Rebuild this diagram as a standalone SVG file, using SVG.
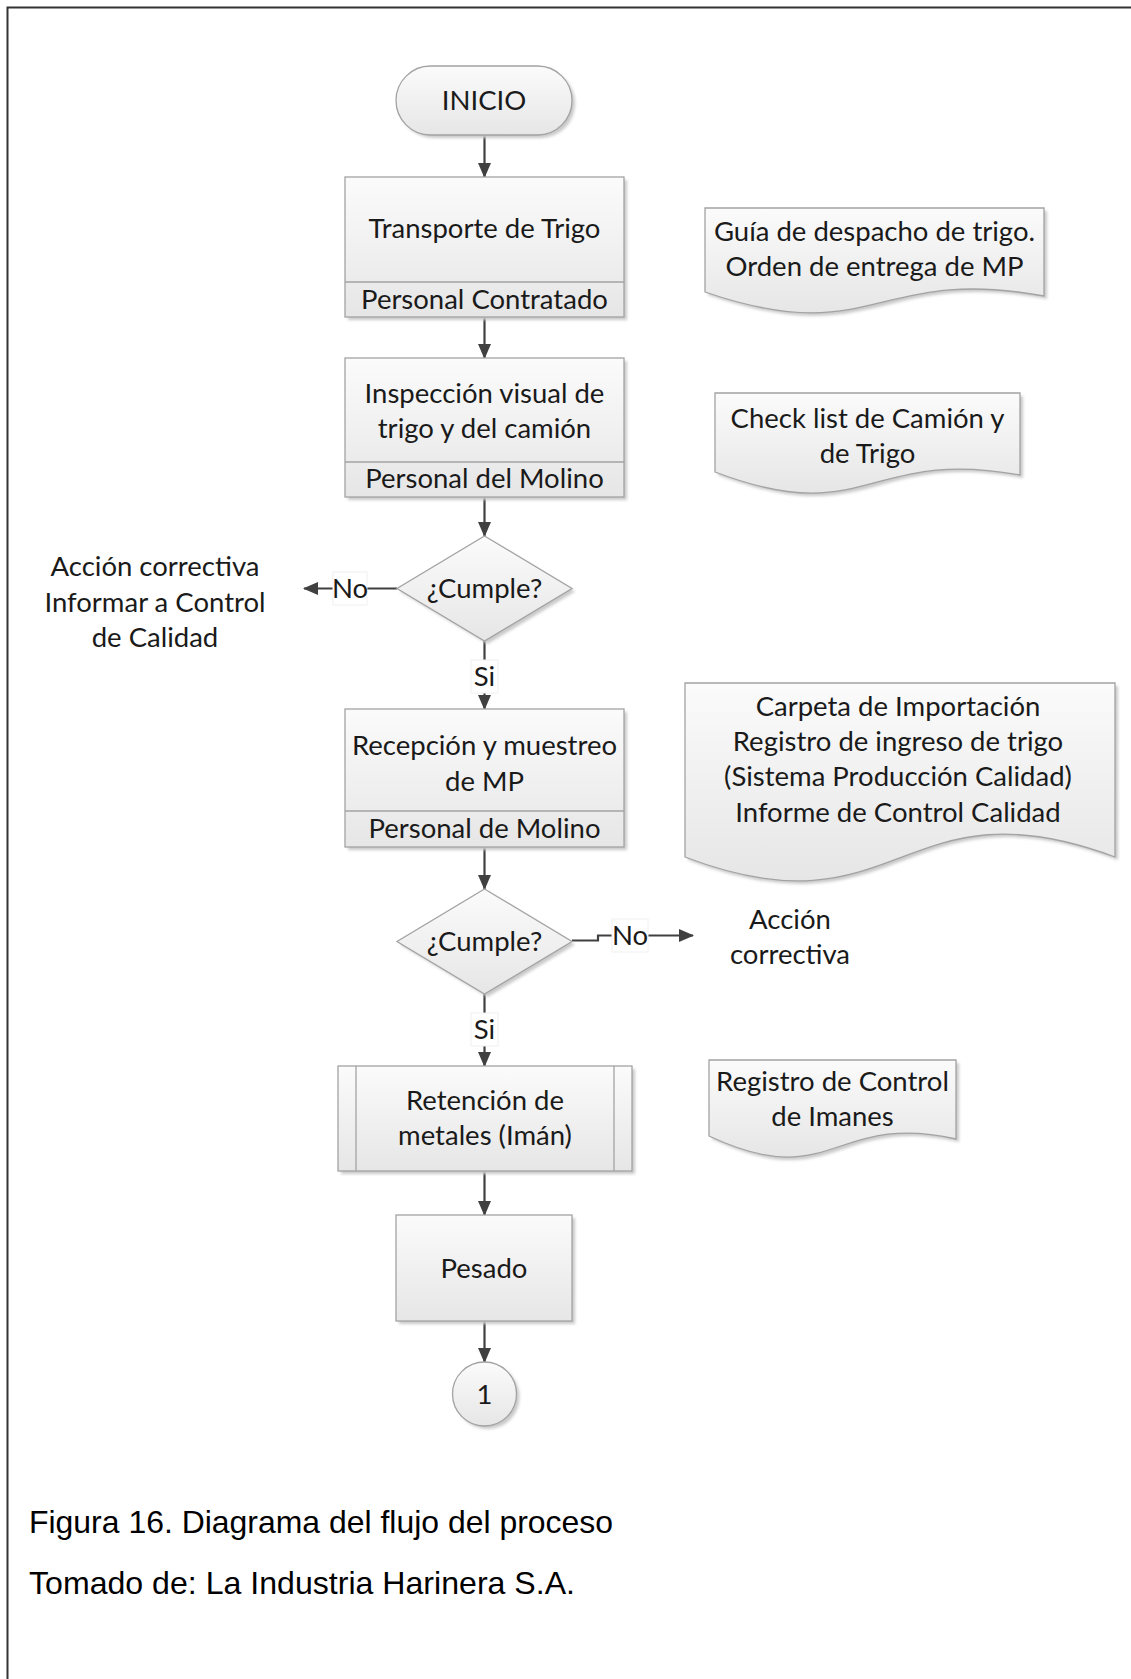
<svg xmlns="http://www.w3.org/2000/svg" width="1131" height="1679" viewBox="0 0 1131 1679">
<style>
.shape{fill:url(#g);stroke:#a3a3a3;stroke-width:1.3}
.sh{fill:#c9c9c9;filter:url(#blur)}
.t{font-family:Lato,"Open Sans",sans-serif;font-size:27.5px;fill:#1a1a1a;text-anchor:middle}
.cap{font-family:"Liberation Sans",Arial,sans-serif;font-size:32px;fill:#000}
.c{stroke:#404040;stroke-width:2.2;fill:none}
.lbl{fill:#fff;stroke:#f0f0f0;stroke-width:1}
</style>
<defs>
<linearGradient id="g" x1="0" y1="0" x2="0" y2="1">
<stop offset="0" stop-color="#fbfbfb"/>
<stop offset="1" stop-color="#e6e6e6"/>
</linearGradient>
<filter id="blur" x="-10%" y="-10%" width="120%" height="120%"><feGaussianBlur stdDeviation="1.5"/></filter>
<marker id="a" markerWidth="15" markerHeight="13" refX="14" refY="6.5" orient="auto" markerUnits="userSpaceOnUse">
<path d="M0,0 L15,6.5 L0,13 Z" fill="#404040"/>
</marker>
</defs>
<rect x="0" y="0" width="1131" height="1679" fill="#fff"/>
<path d="M7.5,1679 V7.5 H1131" fill="none" stroke="#333" stroke-width="2"/>

<g id="connectors">
<line class="c" x1="484.5" y1="135" x2="484.5" y2="177" marker-end="url(#a)"/>
<line class="c" x1="484.5" y1="317" x2="484.5" y2="358" marker-end="url(#a)"/>
<line class="c" x1="484.5" y1="497" x2="484.5" y2="536" marker-end="url(#a)"/>
<line class="c" x1="397" y1="588.5" x2="304" y2="588.5" marker-end="url(#a)"/>
<rect class="lbl" x="333" y="572" width="34" height="33"/>
<text class="t" x="350" y="598">No</text>
<line class="c" x1="484.5" y1="641" x2="484.5" y2="709" marker-end="url(#a)"/>
<rect class="lbl" x="471" y="660" width="27" height="33"/>
<text class="t" x="484.5" y="686">Si</text>
<line class="c" x1="484.5" y1="847" x2="484.5" y2="889" marker-end="url(#a)"/>
<path class="c" d="M572,940.5 H598 V935.5 H693" marker-end="url(#a)"/>
<rect class="lbl" x="612" y="919" width="36" height="33"/>
<text class="t" x="630" y="945">No</text>
<line class="c" x1="484.5" y1="994" x2="484.5" y2="1066" marker-end="url(#a)"/>
<rect class="lbl" x="471" y="1013" width="27" height="33"/>
<text class="t" x="484.5" y="1039">Si</text>
<line class="c" x1="484.5" y1="1171" x2="484.5" y2="1215" marker-end="url(#a)"/>
<line class="c" x1="484.5" y1="1321" x2="484.5" y2="1362" marker-end="url(#a)"/>
</g>

<g id="inicio">
<rect class="sh" x="399" y="69" width="176" height="69" rx="34.5"/>
<rect class="shape" x="396" y="66" width="176" height="69" rx="34.5"/>
<text class="t" x="484" y="110">INICIO</text>
</g>

<g id="transporte">
<rect class="sh" x="348" y="180" width="279" height="140"/>
<rect class="shape" x="345" y="177" width="279" height="140"/>
<line x1="345" y1="282" x2="624" y2="282" stroke="#a3a3a3" stroke-width="1.3"/>
<text class="t" x="484.5" y="238">Transporte de Trigo</text>
<text class="t" x="484.5" y="309">Personal Contratado</text>
</g>

<g id="doc-guia">
<path class="sh" d="M708,211 H1047 V299 C877.5,268 877.5,353 708,295 Z"/>
<path class="shape" d="M705,208 H1044 V296 C874.5,265 874.5,350 705,292 Z"/>
<text class="t" x="874.5" y="241">Guía de despacho de trigo.</text>
<text class="t" x="874.5" y="276">Orden de entrega de MP</text>
</g>

<g id="inspeccion">
<rect class="sh" x="348" y="361" width="279" height="139"/>
<rect class="shape" x="345" y="358" width="279" height="139"/>
<line x1="345" y1="462" x2="624" y2="462" stroke="#a3a3a3" stroke-width="1.3"/>
<text class="t" x="484.5" y="403">Inspección visual de</text>
<text class="t" x="484.5" y="438">trigo y del camión</text>
<text class="t" x="484.5" y="488">Personal del Molino</text>
</g>

<g id="doc-checklist">
<path class="sh" d="M718,396 H1023 V478 C870.5,450 870.5,533 718,475 Z"/>
<path class="shape" d="M715,393 H1020 V475 C867.5,447 867.5,530 715,472 Z"/>
<text class="t" x="867.5" y="428">Check list de Camión y</text>
<text class="t" x="867.5" y="463">de Trigo</text>
</g>

<g id="cumple1">
<polygon class="sh" points="487.5,539 575,591.5 487.5,644 400,591.5"/>
<polygon class="shape" points="484.5,536 572,588.5 484.5,641 397,588.5"/>
<text class="t" x="484.5" y="598">¿Cumple?</text>
</g>

<g id="accion1">
<text class="t" x="155" y="576">Acción correctiva</text>
<text class="t" x="155" y="612">Informar a Control</text>
<text class="t" x="155" y="647">de Calidad</text>
</g>

<g id="recepcion">
<rect class="sh" x="348" y="712" width="279" height="138"/>
<rect class="shape" x="345" y="709" width="279" height="138"/>
<line x1="345" y1="811" x2="624" y2="811" stroke="#a3a3a3" stroke-width="1.3"/>
<text class="t" x="484.5" y="755">Recepción y muestreo</text>
<text class="t" x="484.5" y="791">de MP</text>
<text class="t" x="484.5" y="838">Personal de Molino</text>
</g>

<g id="doc-carpeta">
<path class="sh" d="M688,686 H1118 V860 C903,780 903,942 688,860 Z"/>
<path class="shape" d="M685,683 H1115 V857 C900,777 900,939 685,857 Z"/>
<text class="t" x="898" y="716">Carpeta de Importación</text>
<text class="t" x="898" y="751">Registro de ingreso de trigo</text>
<text class="t" x="898" y="786">(Sistema Producción Calidad)</text>
<text class="t" x="898" y="822">Informe de Control Calidad</text>
</g>

<g id="cumple2">
<polygon class="sh" points="487.5,892 575,944.5 487.5,997 400,944.5"/>
<polygon class="shape" points="484.5,889 572,941.5 484.5,994 397,941.5"/>
<text class="t" x="484.5" y="951">¿Cumple?</text>
</g>

<g id="accion2">
<text class="t" x="790" y="929">Acción</text>
<text class="t" x="790" y="964">correctiva</text>
</g>

<g id="retencion">
<rect class="sh" x="341" y="1069" width="294" height="105"/>
<rect class="shape" x="338" y="1066" width="294" height="105"/>
<line x1="356" y1="1066" x2="356" y2="1171" stroke="#a3a3a3" stroke-width="1.3"/>
<line x1="614" y1="1066" x2="614" y2="1171" stroke="#a3a3a3" stroke-width="1.3"/>
<text class="t" x="485" y="1110">Retención de</text>
<text class="t" x="485" y="1145">metales (Imán)</text>
</g>

<g id="doc-imanes">
<path class="sh" d="M712,1063 H959 V1142 C835.5,1114 835.5,1197 712,1139 Z"/>
<path class="shape" d="M709,1060 H956 V1139 C832.5,1111 832.5,1194 709,1136 Z"/>
<text class="t" x="832.5" y="1091">Registro de Control</text>
<text class="t" x="832.5" y="1126">de Imanes</text>
</g>

<g id="pesado">
<rect class="sh" x="399" y="1218" width="176" height="106"/>
<rect class="shape" x="396" y="1215" width="176" height="106"/>
<text class="t" x="484" y="1278">Pesado</text>
</g>

<g id="conector1">
<circle class="sh" cx="487.5" cy="1397" r="32"/>
<circle class="shape" cx="484.5" cy="1394" r="32"/>
<text class="t" x="484.5" y="1404">1</text>
</g>

<g id="caption">
<text class="cap" x="29" y="1533" textLength="584" lengthAdjust="spacingAndGlyphs">Figura 16. Diagrama del flujo del proceso</text>
<text class="cap" x="29" y="1594" textLength="546" lengthAdjust="spacingAndGlyphs">Tomado de: La Industria Harinera S.A.</text>
</g>
</svg>
